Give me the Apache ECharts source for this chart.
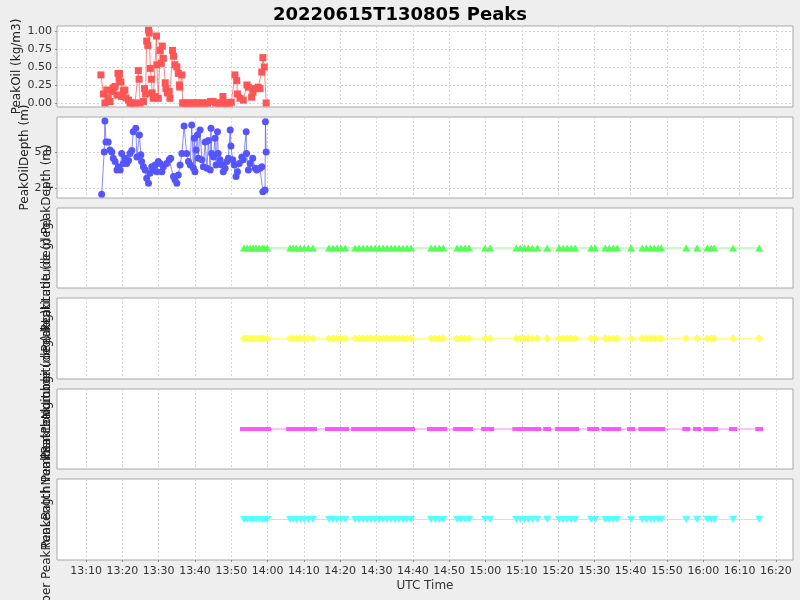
<!DOCTYPE html>
<html>
<head>
<meta charset="utf-8">
<script src="https://cdn.jsdelivr.net/npm/echarts@6/dist/echarts.min.js"></script>
<style>html,body{margin:0;padding:0;background:#eeeeee}#c{width:800px;height:600px}</style>
</head>
<body>
<div id="c"></div>
<script>
// Times are minutes after 13:00 UTC
const oilMinutes = [14.1,14.8,15.2,15.7,16.1,16.6,17.1,17.5,18.0,18.5,18.8,19.1,19.2,19.6,19.8,20.3,20.7,21.0,21.7,22.1,22.6,23.5,24.4,24.6,24.9,25.8,26.1,26.4,26.7,27.0,27.2,27.4,27.7,28.0,28.2,28.5,29.0,29.4,29.5,29.9,30.4,30.7,31.0,31.3,31.8,32.0,32.4,32.9,33.1,33.8,34.1,34.5,35.0,35.4,35.7,35.8,36.4,36.6,37.0,37.5,38.2,39.0,39.8,40.5,41.2,42.0,42.8,43.5,44.3,45.0,45.7,46.5,47.3,47.7,48.2,49.0,49.5,50.0,51.0,51.5,51.7,52.4,53.3,54.3,54.7,55.6,56.0,56.6,57.4,57.9,58.4,58.7,59.1,59.6];
const oilValues  = [0.39,0.125,0.0,0.18,0.07,0.02,0.16,0.21,0.23,0.11,0.41,0.33,0.41,0.29,0.09,0.17,0.18,0.07,0.04,0.0,0.0,0.0,0.45,0.33,0.0,0.02,0.2,0.125,0.86,0.8,1.01,0.97,0.48,0.33,0.14,0.065,0.09,0.93,0.53,0.065,0.73,0.55,0.79,0.62,0.28,0.2,0.14,0.16,0.065,0.73,0.65,0.53,0.5,0.41,0.25,0.22,0.39,0.0,0.0,0.0,0.0,0.0,0.0,0.0,0.0,0.0,0.0,0.0,0.02,0.02,0.0,0.0,0.0,0.09,0.0,0.0,0.0,0.01,0.39,0.31,0.125,0.065,0.04,0.25,0.22,0.08,0.15,0.2,0.22,0.2,0.43,0.63,0.5,0.0];

const depthMinutes = [14.3,15.0,15.2,15.5,16.1,16.6,17.1,17.5,18.0,18.5,18.9,19.4,19.8,20.3,20.7,21.2,21.7,22.1,22.6,23.0,23.7,24.0,24.7,25.1,25.3,25.8,26.3,26.7,27.2,27.6,28.1,28.5,29.0,29.5,29.9,30.4,30.9,31.3,32.2,32.9,33.3,34.1,34.5,35.0,35.4,35.9,36.4,37.0,37.7,38.2,38.7,39.1,39.6,39.8,40.0,40.3,40.7,40.9,41.4,41.9,42.3,42.8,43.3,43.7,44.2,44.4,44.6,45.1,45.5,45.8,46.2,46.4,46.9,47.4,47.8,48.3,48.8,49.2,49.7,49.9,50.4,50.8,51.3,51.7,52.2,52.9,53.3,54.1,54.2,54.7,55.2,55.9,56.6,57.0,57.9,58.4,58.7,59.3,59.4,59.6];
const depthValues  = [2.06,5.0,7.15,5.7,5.7,5.14,5.0,4.56,4.33,3.75,3.98,3.75,4.9,4.2,4.56,4.2,4.4,4.9,5.1,6.4,6.64,4.65,6.18,4.8,4.33,3.98,3.75,3.17,2.83,3.52,3.98,3.75,4.1,3.63,4.33,4.2,3.63,3.98,4.2,4.45,4.56,3.29,3.06,2.83,3.4,4.1,4.9,6.8,4.9,4.33,4.1,6.88,3.86,5.95,3.63,5.14,6.2,4.56,6.53,4.45,3.98,5.7,3.86,5.8,3.75,6.64,4.9,4.65,5.95,4.1,6.4,4.9,4.45,4.1,3.63,3.86,4.33,4.56,6.53,5.42,4.45,4.1,3.29,3.63,4.2,4.65,4.45,6.4,4.9,3.75,4.2,4.56,3.86,3.75,3.86,3.98,2.24,2.36,7.1,5.0];

// Peak times shared by the four lower panels (constant-valued series)
const peakMinutes = [53.5,54.4,55.2,56.0,56.8,57.7,58.5,59.0,59.9,66.2,67.0,67.9,69.0,70.1,71.2,72.5,76.9,78.0,79.1,80.2,81.4,84.1,85.2,86.3,87.4,88.5,89.6,90.7,91.8,92.9,94.0,95.1,96.2,97.3,98.4,99.5,105.0,106.1,107.3,108.4,112.2,113.3,114.4,115.5,119.9,121.3,128.5,129.6,130.7,131.8,132.9,134.3,137.0,140.3,141.4,142.5,143.6,144.7,149.1,150.2,153.0,154.1,155.2,156.3,160.1,163.2,164.3,165.4,166.5,167.6,168.4,175.3,178.3,181.1,182.2,183.0,188.2,195.4];

const xTickMinutes = [790,800,810,820,830,840,850,860,870,880,890,900,910,920,930,940,950,960,970,980];
const oilTicks = [0, 0.25, 0.5, 0.75, 1.0];
const depthTicks = [2.5, 5.0];
const yNames = ['PeakOil (kg/m3)', 'PeakOilDepth (m)', 'PeakLatitude (deg) PeakDepth (m)', 'PeakLongitude (deg) PeakLatitude (deg)', 'PeakBatchNumber PeakLongitude (deg)', 'Batch number PeakRunLength PeakBatchNumber'];
const title = '20220615T130805 Peaks';

const FONT = 'DejaVu Sans';
const BASE = 780; // 13:00 in minutes since midnight
const fmt = v => { const h = Math.floor(v / 60), m = Math.round(v - h * 60); return h + ':' + (m < 10 ? '0' : '') + m; };

const tops = [26, 117, 208, 298, 389, 479];
const heights = [81, 81, 80, 81, 80, 81];
const grids = tops.map((t, i) => ({left: 57, right: 7, top: t, height: heights[i], show: true, backgroundColor: '#ffffff', borderColor: '#a8a8a8', borderWidth: 1, containLabel: false, outerBoundsMode: 'none'}));

const gridLine = {show: true, lineStyle: {color: '#d6d6d6', type: [2, 2], width: 1}};
const xAxes = tops.map((t, i) => {
  const last = i === tops.length - 1;
  return {
    type: 'value', gridIndex: i, min: 782, max: 984.7,
    axisLine: {show: false},
    axisTick: {show: last, length: 2, lineStyle: {color: '#888'}, customValues: xTickMinutes},
    axisLabel: {show: last, customValues: xTickMinutes, formatter: fmt, fontFamily: FONT, fontSize: 11, color: '#333', margin: 6},
    splitLine: gridLine,
    name: last ? 'UTC Time' : '', nameLocation: 'middle', nameGap: 20, nameMoveOverlap: false,
    nameTextStyle: {fontFamily: FONT, fontSize: 12, color: '#333'}
  };
});

const yCommon = (i) => ({
  type: 'value', gridIndex: i,
  axisLine: {show: false},
  name: yNames[i], nameLocation: 'middle', nameMoveOverlap: false,
  nameTextStyle: {fontFamily: FONT, fontSize: 12, color: '#222'}
});
const yAxes = [
  Object.assign(yCommon(0), {min: -0.056, max: 1.069, nameGap: 34,
    axisTick: {show: true, length: 2, customValues: oilTicks, lineStyle: {color: '#888'}},
    axisLabel: {customValues: oilTicks, formatter: v => v.toFixed(2), fontFamily: FONT, fontSize: 11, color: '#333', margin: 5},
    splitLine: gridLine}),
  Object.assign(yCommon(1), {min: 1.8, max: 7.43, nameGap: 26,
    axisTick: {show: true, length: 2, customValues: depthTicks, lineStyle: {color: '#888'}},
    axisLabel: {customValues: depthTicks, formatter: v => v.toFixed(1), fontFamily: FONT, fontSize: 11, color: '#333', margin: 5},
    splitLine: gridLine}),
];
for (let i = 2; i < 6; i++) {
  yAxes.push(Object.assign(yCommon(i), {min: 0, max: 2, nameGap: 4,
    axisTick: {show: false}, axisLabel: {show: false}, splitLine: {show: false}}));
}

const pairs = (mins, vals) => mins.map((m, i) => [BASE + m, vals[i]]);
const constPairs = mins => mins.map(m => [BASE + m, 1]);

function lineSeries(i, data, color, symbol, size, rotate) {
  return {
    type: 'line', xAxisIndex: i, yAxisIndex: i, data: data,
    symbol: symbol, symbolSize: size, symbolRotate: rotate || 0, showSymbol: true,
    lineStyle: {color: color, width: 1, opacity: 0.7},
    itemStyle: {color: color, opacity: 1},
    emphasis: {disabled: true}, animation: false
  };
}

const series = [
  lineSeries(0, pairs(oilMinutes, oilValues), '#ff5555', 'rect', 7),
  lineSeries(1, pairs(depthMinutes, depthValues), '#5555ff', 'circle', 7),
  lineSeries(2, constPairs(peakMinutes), '#55ff55', 'triangle', [8, 7]),
  lineSeries(3, constPairs(peakMinutes), '#ffff55', 'diamond', [8, 8]),
  lineSeries(4, constPairs(peakMinutes), '#ff55ff', 'rect', [8, 4]),
  lineSeries(5, constPairs(peakMinutes), '#55ffff', 'triangle', [8, 7], 180),
];

const chart = echarts.init(document.getElementById('c'), null, {renderer: 'canvas'});
chart.setOption({
  backgroundColor: '#eeeeee',
  animation: false,
  title: {text: title, left: 'center', top: 1, textStyle: {fontFamily: FONT, fontSize: 18, fontWeight: 'bold', color: '#000'}},
  grid: grids, xAxis: xAxes, yAxis: yAxes, series: series
});
</script>
</body>
</html>
